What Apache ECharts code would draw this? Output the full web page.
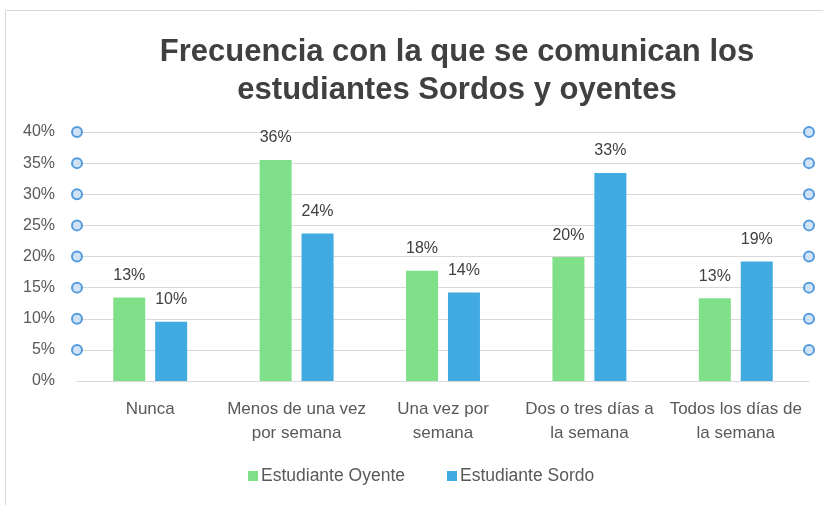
<!DOCTYPE html>
<html>
<head>
<meta charset="utf-8">
<script src="https://cdn.jsdelivr.net/npm/echarts@6/dist/echarts.min.js"></script>
<style>
  html, body { margin: 0; padding: 0; background: #fff; }
  #chart { width: 823px; height: 505px; }
</style>
</head>
<body>
<div id="chart"></div>
<script>
// categories and values (percent)
const categories = [
  'Nunca',
  'Menos de una vez\npor semana',
  'Una vez por\nsemana',
  'Dos o tres días a\nla semana',
  'Todos los días de\nla semana'
];
const oyente = [13.4, 35.5, 17.7, 19.9, 13.3];
const sordo = [9.5, 23.7, 14.2, 33.4, 19.2];
const yTicks = [0, 5, 10, 15, 20, 25, 30, 35, 40];
// selection handles sit on every gridline above zero
const handleTicks = yTicks.filter(v => v > 0);

const textFont = 'Liberation Sans';
const handleData = [];
for (const v of handleTicks) {
  handleData.push([0, v]);
  handleData.push([1, v]);
}

const chart = echarts.init(document.getElementById('chart'));
chart.setOption({
  backgroundColor: '#fff',
  animation: false,
  title: {
    text: 'Frecuencia con la que se comunican los\nestudiantes Sordos y oyentes',
    left: 452,
    textAlign: 'center',
    top: 28,
    textStyle: {
      fontFamily: textFont,
      fontWeight: 'bold',
      fontSize: 31,
      lineHeight: 38,
      color: '#404040'
    }
  },
  graphic: [{
    type: 'rect',
    shape: { x: 5.5, y: 10.5, width: 900, height: 600 },
    style: { fill: 'none', stroke: '#d9d9d9', lineWidth: 1 },
    silent: true
  }],
  legend: {
    data: ['Estudiante Oyente', 'Estudiante Sordo'],
    bottom: 20,
    left: 248,
    padding: 0,
    itemWidth: 10,
    itemHeight: 10,
    itemGap: 42,
    icon: 'rect',
    textStyle: { fontFamily: textFont, fontSize: 17.5, color: '#595959', padding: [0, 0, 0, -2] }
  },
  grid: { left: 77, right: 14, top: 132, bottom: 124, containLabel: false },
  xAxis: [{
    type: 'category',
    data: categories,
    axisLine: { lineStyle: { color: '#d9d9d9' } },
    axisTick: { show: false },
    axisLabel: {
      interval: 0,
      margin: 16,
      fontFamily: textFont,
      fontSize: 17,
      lineHeight: 24,
      verticalAlign: 'top',
      color: '#595959'
    }
  }, {
    type: 'value',
    min: 0,
    max: 1,
    show: false
  }],
  yAxis: {
    type: 'value',
    min: 0,
    max: 40,
    interval: 5,
    axisLine: { show: false },
    axisTick: { show: false },
    splitLine: { lineStyle: { color: '#d9d9d9', width: 1 } },
    axisLabel: {
      formatter: '{value}%',
      margin: 22,
      fontFamily: textFont,
      fontSize: 16,
      color: '#595959'
    }
  },
  series: [{
    name: 'Estudiante Oyente',
    type: 'bar',
    data: oyente,
    barWidth: 32,
    barGap: '31%',
    itemStyle: { color: '#80e08a' },
    label: {
      show: true,
      position: 'top',
      distance: 14,
      formatter: p => Math.round(p.value) + '%',
      fontFamily: textFont,
      fontSize: 16,
      color: '#404040'
    }
  }, {
    name: 'Estudiante Sordo',
    type: 'bar',
    data: sordo,
    barWidth: 32,
    itemStyle: { color: '#41aae0' },
    label: {
      show: true,
      position: 'top',
      distance: 14,
      formatter: p => Math.round(p.value) + '%',
      fontFamily: textFont,
      fontSize: 16,
      color: '#404040'
    }
  }, {
    name: 'handles',
    type: 'scatter',
    xAxisIndex: 1,
    data: handleData,
    symbol: 'circle',
    symbolSize: 10,
    silent: true,
    z: 5,
    itemStyle: { color: '#c5dcf5', borderColor: '#2e86d6', borderWidth: 2 }
  }]
});
</script>
</body>
</html>
